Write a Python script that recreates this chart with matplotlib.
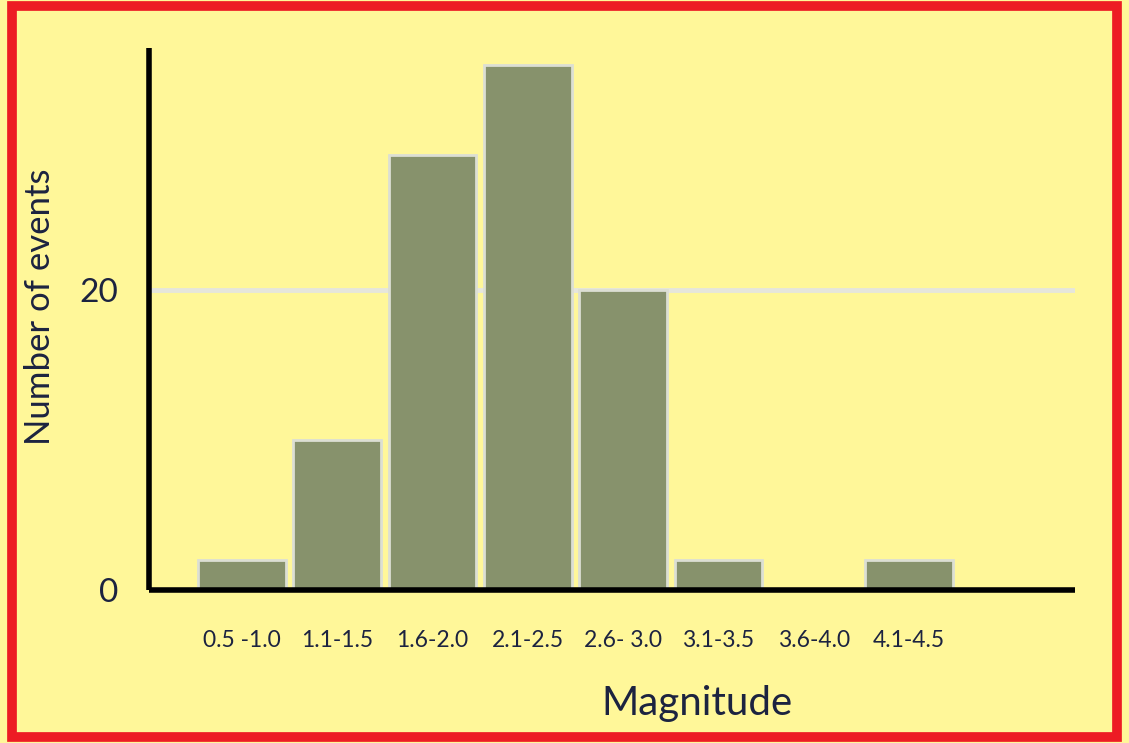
import numpy as np
import matplotlib.pyplot as plt
from matplotlib.patches import Rectangle

magnitudes = ['0.5 -1.0', '1.1-1.5', '1.6-2.0', '2.1-2.5', '2.6- 3.0', '3.1-3.5', '3.6-4.0', '4.1-4.5']
events = [2, 10, 29, 35, 20, 2, 0, 2]
yticks = [0, 20]

bg = '#fff799'
txt = '#1c2340'
plt.rcParams['font.family'] = ['Lato', 'DejaVu Sans']

fig = plt.figure(figsize=(11.29, 7.43), dpi=100, facecolor=bg)
ax = fig.add_axes([149/1129, 1 - 590/743, (1075 - 149)/1129, (590 - 48)/743])
ax.set_facecolor(bg)

x = np.arange(len(events))
ax.axhline(20, color='#e6e6dc', lw=3.5, zorder=1)
ax.bar(x, events, width=0.92, color='#87926c', edgecolor='#dcdfd4', linewidth=2, zorder=2)

ax.set_xlim(-0.976, 8.74)
ax.set_ylim(0, 36.1)

for s in ['top', 'right']:
    ax.spines[s].set_visible(False)
for s in ['left', 'bottom']:
    ax.spines[s].set_linewidth(4)
    ax.spines[s].set_color('black')
    ax.spines[s].set_capstyle('butt')

ax.set_yticks(yticks)
ax.set_yticklabels([str(v) for v in yticks], fontsize=24, color=txt)
ax.set_xticks(x)
ax.set_xticklabels(magnitudes, fontsize=16.5, color=txt)
ax.tick_params(axis='y', length=0, pad=22)
ax.tick_params(axis='x', length=0, pad=29)

fig.text(40/1129, 1 - 307/743, 'Number of events', rotation=90, ha='center', va='center',
         fontsize=25, color=txt)
fig.text(697/1129, 1 - 703/743, 'Magnitude', ha='center', va='center', fontsize=29, color=txt)

fig.patches.append(Rectangle((12/1129, 6/743), 1 - 24/1129, 1 - 12/743, transform=fig.transFigure,
                             fill=False, edgecolor='#ed1c24', linewidth=7))

fig.savefig('out.png', dpi=100, facecolor=bg)
